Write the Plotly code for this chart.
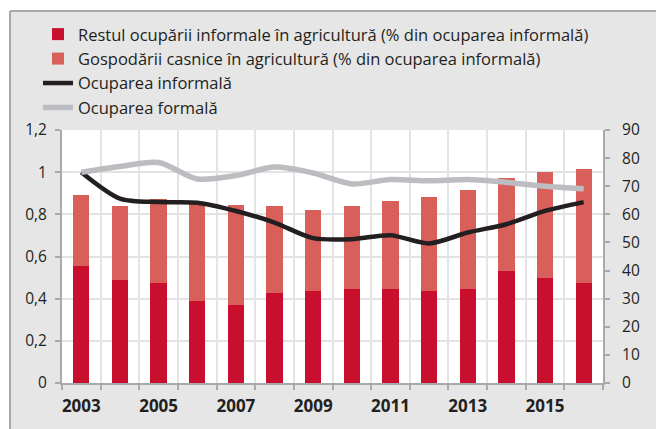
import plotly.graph_objects as go

years = list(range(2003, 2017))
# Bars, % of informal employment (right axis)
restul = [41.8, 36.5, 35.4, 29.0, 27.9, 31.9, 32.6, 33.3, 33.4, 32.7, 33.4, 40.0, 37.5, 35.6]
gospodarii = [25.0, 26.4, 30.2, 35.1, 35.4, 31.2, 29.1, 29.6, 31.2, 33.5, 35.3, 32.9, 37.6, 40.5]
# Lines, index 2003 = 1 (left axis)
informala = [1.0, 0.875, 0.858, 0.855, 0.816, 0.761, 0.687, 0.682, 0.701, 0.662, 0.714, 0.753, 0.816, 0.858]
formala = [1.0, 1.027, 1.046, 0.968, 0.984, 1.024, 0.996, 0.944, 0.965, 0.959, 0.965, 0.952, 0.933, 0.921]

left_ticks = [0, 0.2, 0.4, 0.6, 0.8, 1.0, 1.2]
left_labels = ["0", "0,2", "0,4", "0,6", "0,8", "1", "1,2"]
right_ticks = list(range(0, 91, 10))
x_label_years = [2003, 2005, 2007, 2009, 2011, 2013, 2015]

W, H = 656, 429
L, R, T, B = 62, 53, 130, 44
pw, ph = W - L - R, H - T - B

def px(x):
    return (x - L) / pw

def py(y):
    return (H - B - y) / ph

FONT = "Open Sans, Roboto, sans-serif"
TXT = "#231f20"
AX = "#a7a9ac"
GRID = "#e3e3e4"

fig = go.Figure()
fig.add_trace(go.Bar(x=years, y=restul, name="Restul ocupării informale în agricultură (% din ocuparea informală)",
                     marker=dict(color="#c8102e", line=dict(width=0)), width=0.42, yaxis="y"))
fig.add_trace(go.Bar(x=years, y=gospodarii, name="Gospodării casnice în agricultură (% din ocuparea informală)",
                     marker=dict(color="#d9605a", line=dict(width=0)), width=0.42, yaxis="y"))
fig.add_trace(go.Scatter(x=years, y=informala, name="Ocuparea informală", mode="lines",
                         line=dict(color="#231f20", width=4.5, shape="spline", smoothing=0.8), yaxis="y2"))
fig.add_trace(go.Scatter(x=years, y=formala, name="Ocuparea formală", mode="lines",
                         line=dict(color="#bcbdc0", width=5.5, shape="spline", smoothing=0.8), yaxis="y2"))

shapes = [
    dict(type="rect", xref="paper", yref="paper", x0=px(-5), x1=px(W + 5), y0=py(-5), y1=py(10),
         fillcolor="white", line=dict(width=0), layer="below"),
    dict(type="rect", xref="paper", yref="paper", x0=px(-5), x1=px(10), y0=py(-5), y1=py(H + 5),
         fillcolor="white", line=dict(width=0), layer="below"),
    dict(type="line", xref="paper", yref="paper", x0=px(10), x1=px(W + 5), y0=py(10), y1=py(10),
         line=dict(color=AX, width=2)),
    dict(type="line", xref="paper", yref="paper", x0=px(10), x1=px(10), y0=py(10), y1=py(H + 5),
         line=dict(color=AX, width=2)),
]

fig.update_layout(
    width=W, height=H,
    margin=dict(l=L, r=R, t=T, b=B),
    paper_bgcolor="#e6e6e7",
    plot_bgcolor="white",
    barmode="stack",
    bargap=0,
    font=dict(family=FONT, size=15, color=TXT),
    showlegend=True,
    legend=dict(x=px(38), y=py(16), xanchor="left", yanchor="top", bgcolor="rgba(0,0,0,0)",
                font=dict(family=FONT, size=16.5, color=TXT), tracegroupgap=0, itemwidth=30,
                traceorder="normal"),
    shapes=shapes,
    xaxis=dict(range=[2002.5, 2016.5], tickmode="array", tickvals=x_label_years,
               ticktext=[f"<b>{y}</b>" for y in x_label_years], ticks="", showgrid=False,
               showline=True, linecolor=AX, linewidth=2, zeroline=False, ticklabelstandoff=7,
               tickfont=dict(family=FONT, size=17, color=TXT),
               minor=dict(tickmode="array", tickvals=[2002.5 + i for i in range(15)],
                          ticks="outside", ticklen=5, tickcolor=AX, tickwidth=2,
                          showgrid=True, gridcolor=GRID, gridwidth=2)),
    yaxis=dict(range=[0, 90], side="right", tickmode="array", tickvals=right_ticks,
               ticks="outside", ticklen=5, tickcolor=AX, tickwidth=2, ticklabelstandoff=9,
               showgrid=False, showline=True, linecolor=AX, linewidth=2, zeroline=False,
               tickfont=dict(family=FONT, size=15.5, color=TXT),
               minor=dict(tickmode="array", tickvals=[15, 30, 45, 60, 75, 90], ticks="",
                          showgrid=True, gridcolor=GRID, gridwidth=2)),
    yaxis2=dict(range=[0, 1.2], side="left", overlaying="y", tickmode="array",
                tickvals=left_ticks, ticktext=left_labels, ticks="outside", ticklen=5,
                tickcolor=AX, tickwidth=2, showgrid=False, showline=True, linecolor=AX,
                linewidth=2, zeroline=False, ticklabelstandoff=5,
                tickfont=dict(family=FONT, size=15.5, color=TXT)),
)

fig.write_html("out.html", config={"displayModeBar": False},
               post_script="document.body.style.margin='0px';")
